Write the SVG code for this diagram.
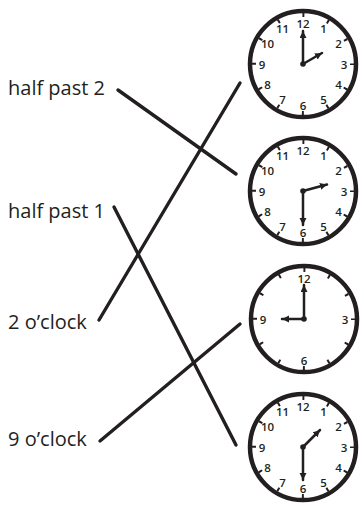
<svg xmlns="http://www.w3.org/2000/svg" width="363" height="507" viewBox="0 0 363 507">
<style>
.lbl{font-family:"Open Sans","Liberation Sans",sans-serif;font-size:20px;fill:#231f20}
.num{font-family:"Open Sans","Liberation Sans",sans-serif;font-size:11.5px;font-weight:600;fill:#231f20;text-anchor:middle;dominant-baseline:central}
.rim{fill:#fff;stroke:#231f20;stroke-width:4.5}
.tick{fill:none;stroke:#231f20;stroke-width:4;stroke-dasharray:2 23.66;stroke-dashoffset:1}
.hand{stroke:#231f20;stroke-width:2.5;stroke-linecap:round;marker-end:url(#ah)}
.dot{fill:#231f20}
.conn line{stroke:#231f20;stroke-width:3.4;stroke-linecap:round}
</style>
<defs>
<marker id="ah" markerUnits="userSpaceOnUse" markerWidth="8" markerHeight="8" refX="7" refY="3.5" orient="auto">
<path d="M0,0 L7,3.5 L0,7 z" fill="#231f20"/>
</marker>
</defs>
<rect width="363" height="507" fill="#fff"/>
<g id="labels">
<text id="l1" class="lbl" x="8" y="95">half past 2</text>
<text id="l2" class="lbl" x="8" y="218">half past 1</text>
<text id="l3" class="lbl" x="8" y="329">2 o’clock</text>
<text id="l4" class="lbl" x="8" y="446">9 o’clock</text>
</g>
<g id="connectors" class="conn">
<line x1="118" y1="90" x2="236" y2="174"/>
<line x1="240" y1="83" x2="99" y2="320"/>
<line x1="114" y1="207" x2="236" y2="445"/>
<line x1="100" y1="441" x2="240" y2="324"/>
</g>
<g id="clock1">
<circle class="rim" cx="303" cy="64" r="53"/>
<circle class="tick" cx="303" cy="64" r="49"/>
<text class="num" x="303" y="23">12</text>
<text class="num" x="323.5" y="28.5">1</text>
<text class="num" x="338.5" y="43.5">2</text>
<text class="num" x="344" y="64">3</text>
<text class="num" x="338.5" y="84.5">4</text>
<text class="num" x="323.5" y="99.5">5</text>
<text class="num" x="303" y="105">6</text>
<text class="num" x="282.5" y="99.5">7</text>
<text class="num" x="267.5" y="84.5">8</text>
<text class="num" x="262" y="64">9</text>
<text class="num" x="267.5" y="43.5">10</text>
<text class="num" x="282.5" y="28.5">11</text>
<line class="hand" x1="303" y1="64" x2="303" y2="31"/>
<line class="hand" x1="303" y1="64" x2="322" y2="53"/>
<circle class="dot" cx="303" cy="64" r="2.8"/>
</g>
<g id="clock2">
<circle class="rim" cx="303" cy="191" r="53"/>
<circle class="tick" cx="303" cy="191" r="49"/>
<text class="num" x="303" y="150">12</text>
<text class="num" x="323.5" y="155.5">1</text>
<text class="num" x="338.5" y="170.5">2</text>
<text class="num" x="344" y="191">3</text>
<text class="num" x="338.5" y="211.5">4</text>
<text class="num" x="323.5" y="226.5">5</text>
<text class="num" x="303" y="232">6</text>
<text class="num" x="282.5" y="226.5">7</text>
<text class="num" x="267.5" y="211.5">8</text>
<text class="num" x="262" y="191">9</text>
<text class="num" x="267.5" y="170.5">10</text>
<text class="num" x="282.5" y="155.5">11</text>
<line class="hand" x1="303" y1="191" x2="303" y2="225"/>
<line class="hand" x1="303" y1="191" x2="327" y2="184.5"/>
<circle class="dot" cx="303" cy="191" r="2.8"/>
</g>
<g id="clock3">
<circle class="rim" cx="304" cy="319" r="53"/>
<circle class="tick" cx="304" cy="319" r="49"/>
<text class="num" x="304" y="278">12</text>
<text class="num" x="345" y="319">3</text>
<text class="num" x="304" y="360">6</text>
<text class="num" x="263" y="319">9</text>
<line class="hand" x1="304" y1="319" x2="304" y2="285"/>
<line class="hand" x1="304" y1="319" x2="282" y2="319"/>
<circle class="dot" cx="304" cy="319" r="2.8"/>
</g>
<g id="clock4">
<circle class="rim" cx="303" cy="447" r="53"/>
<circle class="tick" cx="303" cy="447" r="49"/>
<text class="num" x="303" y="406">12</text>
<text class="num" x="323.5" y="411.5">1</text>
<text class="num" x="338.5" y="426.5">2</text>
<text class="num" x="344" y="447">3</text>
<text class="num" x="338.5" y="467.5">4</text>
<text class="num" x="323.5" y="482.5">5</text>
<text class="num" x="303" y="488">6</text>
<text class="num" x="282.5" y="482.5">7</text>
<text class="num" x="267.5" y="467.5">8</text>
<text class="num" x="262" y="447">9</text>
<text class="num" x="267.5" y="426.5">10</text>
<text class="num" x="282.5" y="411.5">11</text>
<line class="hand" x1="303" y1="447" x2="303" y2="480"/>
<line class="hand" x1="303" y1="447" x2="320" y2="430"/>
<circle class="dot" cx="303" cy="447" r="2.8"/>
</g>
</svg>
